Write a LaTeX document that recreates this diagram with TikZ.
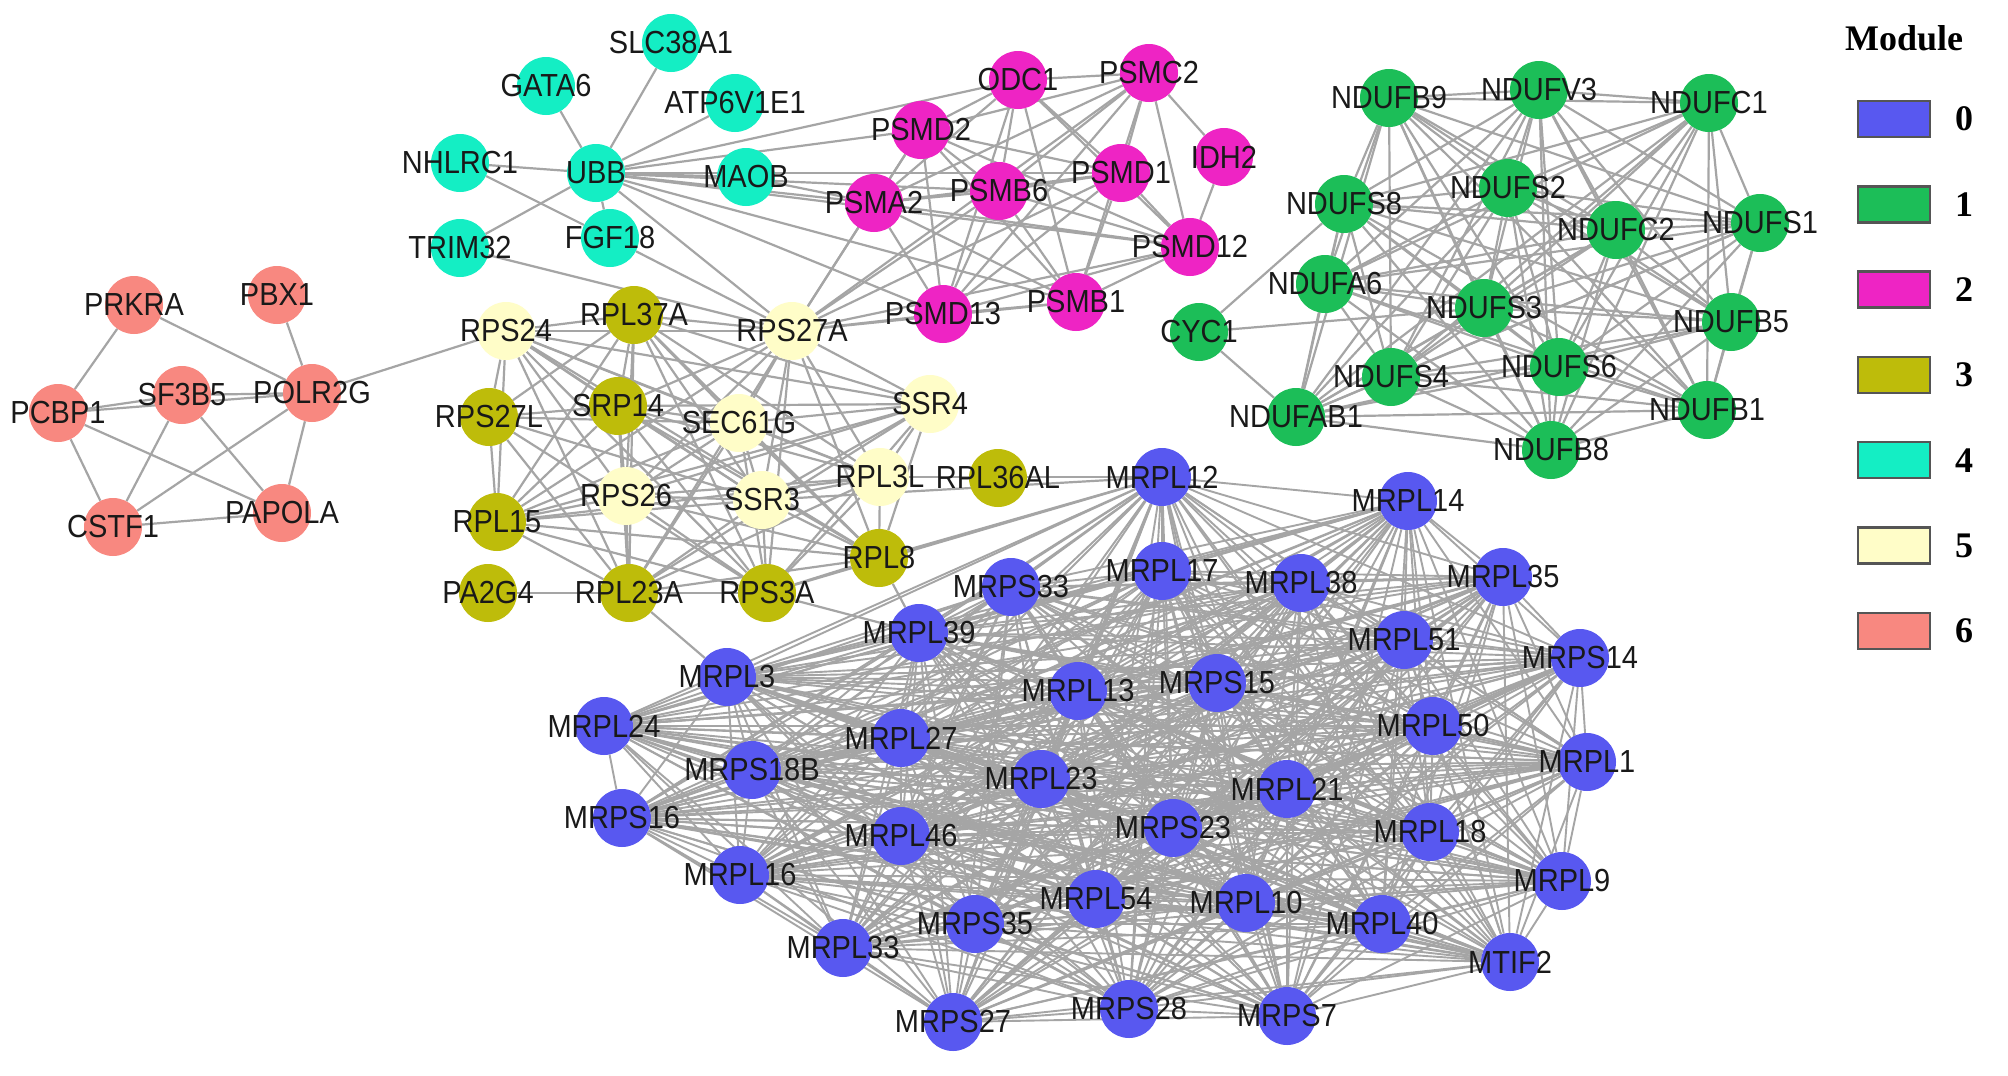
\documentclass[tikz,border=0pt]{standalone}
\usepackage{fontspec}
\setmainfont{Liberation Sans}
\newfontfamily\legfont{Liberation Serif}
\pgfdeclarelayer{edges}
\pgfdeclarelayer{labels}
\pgfsetlayers{edges,main,labels}
\definecolor{mzero}{RGB}{88,88,240}
\definecolor{mone}{RGB}{28,190,88}
\definecolor{mtwo}{RGB}{238,36,196}
\definecolor{mthree}{RGB}{190,188,10}
\definecolor{mfour}{RGB}{20,238,196}
\definecolor{mfive}{RGB}{255,253,200}
\definecolor{msix}{RGB}{248,136,128}
\definecolor{edgegray}{RGB}{165,165,165}
\definecolor{labgray}{RGB}{25,25,25}
\tikzset{
  gene/.style={circle,draw=none,minimum size=58pt,inner sep=0pt},
  lab/.style={inner sep=0pt,text=labgray,font=\fontsize{29}{30}\selectfont},
  edge/.style={draw=edgegray,line width=2.2pt},
  bedge/.style={draw=edgegray,line width=1.9pt},
  legbox/.style={rectangle,draw={rgb,255:red,85;green,85;blue,85},line width=2.5pt,minimum width=72pt,minimum height=36pt,inner sep=0pt},
  legtxt/.style={inner sep=0pt,font=\legfont\bfseries\fontsize{36}{38}\selectfont,text=black}
}
\newcommand\gn[4]{%
  \node[gene,fill=#1] (#2) at (#3,#4) {};
  \begin{pgfonlayer}{labels}\node[lab] (#2-t) at (#3,#4) {\scalebox{1}[1.1]{#2}};\end{pgfonlayer}}
\newcommand\clique[2]{%
  \foreach \a [count=\i] in #1 {\foreach \b [count=\j] in #1 {\ifnum\j>\i\relax\draw[#2] (\a) -- (\b);\fi}}}
\begin{document}
\begin{tikzpicture}[x=1pt,y=-1pt]
\useasboundingbox (0,0) rectangle (2008,1076);
% module 6
\gn{msix}{PRKRA}{134}{305}
\gn{msix}{PBX1}{277}{295}
\gn{msix}{PCBP1}{58}{413}
\gn{msix}{SF3B5}{182}{395}
\gn{msix}{POLR2G}{312}{393}
\gn{msix}{CSTF1}{113}{527}
\gn{msix}{PAPOLA}{282}{513}
% module 4
\gn{mfour}{SLC38A1}{671}{43}
\gn{mfour}{GATA6}{546}{86}
\gn{mfour}{ATP6V1E1}{735}{103}
\gn{mfour}{NHLRC1}{460}{163}
\gn{mfour}{UBB}{596}{173}
\gn{mfour}{MAOB}{746}{177}
\gn{mfour}{TRIM32}{460}{248}
\gn{mfour}{FGF18}{610}{238}
% module 2
\gn{mtwo}{ODC1}{1018}{80}
\gn{mtwo}{PSMC2}{1149}{73}
\gn{mtwo}{PSMD2}{921}{130}
\gn{mtwo}{IDH2}{1224}{157}
\gn{mtwo}{PSMD1}{1121}{173}
\gn{mtwo}{PSMB6}{999}{191}
\gn{mtwo}{PSMA2}{874}{203}
\gn{mtwo}{PSMD12}{1190}{247}
\gn{mtwo}{PSMB1}{1076}{302}
\gn{mtwo}{PSMD13}{943}{314}
% modules 3 and 5
\gn{mfive}{RPS24}{506}{331}
\gn{mthree}{RPL37A}{634}{315}
\gn{mfive}{RPS27A}{792}{331}
\gn{mthree}{RPS27L}{489}{417}
\gn{mthree}{SRP14}{618}{406}
\gn{mfive}{SEC61G}{739}{423}
\gn{mfive}{SSR4}{930}{404}
\gn{mfive}{RPL3L}{880}{477}
\gn{mthree}{RPL36AL}{998}{478}
\gn{mfive}{RPS26}{626}{496}
\gn{mfive}{SSR3}{762}{500}
\gn{mthree}{RPL15}{497}{522}
\gn{mthree}{RPL8}{879}{558}
\gn{mthree}{PA2G4}{488}{593}
\gn{mthree}{RPL23A}{629}{593}
\gn{mthree}{RPS3A}{767}{593}
% module 1
\gn{mone}{NDUFB9}{1389}{98}
\gn{mone}{NDUFV3}{1539}{90}
\gn{mone}{NDUFC1}{1709}{103}
\gn{mone}{NDUFS8}{1344}{204}
\gn{mone}{NDUFS2}{1508}{188}
\gn{mone}{NDUFC2}{1616}{230}
\gn{mone}{NDUFS1}{1760}{223}
\gn{mone}{NDUFA6}{1325}{284}
\gn{mone}{NDUFS3}{1484}{308}
\gn{mone}{CYC1}{1199}{332}
\gn{mone}{NDUFB5}{1731}{322}
\gn{mone}{NDUFS4}{1391}{377}
\gn{mone}{NDUFS6}{1559}{367}
\gn{mone}{NDUFAB1}{1296}{417}
\gn{mone}{NDUFB1}{1707}{410}
\gn{mone}{NDUFB8}{1551}{450}
% module 0
\gn{mzero}{MRPL12}{1162}{477}
\gn{mzero}{MRPL14}{1408}{501}
\gn{mzero}{MRPL17}{1162}{571}
\gn{mzero}{MRPS33}{1011}{587}
\gn{mzero}{MRPL38}{1301}{583}
\gn{mzero}{MRPL35}{1503}{577}
\gn{mzero}{MRPL39}{919}{633}
\gn{mzero}{MRPL51}{1404}{640}
\gn{mzero}{MRPS14}{1580}{658}
\gn{mzero}{MRPL3}{727}{677}
\gn{mzero}{MRPL13}{1078}{691}
\gn{mzero}{MRPS15}{1217}{683}
\gn{mzero}{MRPL24}{604}{726}
\gn{mzero}{MRPL27}{901}{738}
\gn{mzero}{MRPL50}{1433}{726}
\gn{mzero}{MRPL1}{1587}{762}
\gn{mzero}{MRPS18B}{752}{770}
\gn{mzero}{MRPL23}{1041}{779}
\gn{mzero}{MRPL21}{1287}{789}
\gn{mzero}{MRPS16}{622}{818}
\gn{mzero}{MRPL46}{901}{836}
\gn{mzero}{MRPS23}{1173}{828}
\gn{mzero}{MRPL18}{1430}{832}
\gn{mzero}{MRPL16}{740}{875}
\gn{mzero}{MRPL9}{1562}{881}
\gn{mzero}{MRPL54}{1096}{899}
\gn{mzero}{MRPL10}{1246}{903}
\gn{mzero}{MRPS35}{975}{924}
\gn{mzero}{MRPL40}{1382}{924}
\gn{mzero}{MRPL33}{843}{948}
\gn{mzero}{MTIF2}{1510}{962}
\gn{mzero}{MRPS28}{1129}{1009}
\gn{mzero}{MRPS7}{1287}{1016}
\gn{mzero}{MRPS27}{953}{1022}
% legend
\node[legtxt] (legtitle) at (1904,38) {Module};
\foreach \k/\c in {0/mzero,1/mone,2/mtwo,3/mthree,4/mfour,5/mfive,6/msix}{
  \node[legbox,fill=\c] (leg\k) at (1894,{119+85.3*\k}) {};
  \node[legtxt,anchor=west] (legt\k) at (1955,{119+85.3*\k}) {\k};
}
% edges
\begin{pgfonlayer}{edges}
\fill[white] (0,0) rectangle (2008,1076);
\foreach \a/\b in {PRKRA/PCBP1,PRKRA/POLR2G,PBX1/POLR2G,PCBP1/SF3B5,PCBP1/POLR2G,SF3B5/POLR2G,PCBP1/CSTF1,PCBP1/PAPOLA,SF3B5/CSTF1,SF3B5/PAPOLA,POLR2G/CSTF1,POLR2G/PAPOLA,CSTF1/PAPOLA,POLR2G/RPS24}
  \draw[edge] (\a) -- (\b);
\foreach \a/\b in {SLC38A1/UBB,GATA6/UBB,ATP6V1E1/UBB,NHLRC1/UBB,NHLRC1/FGF18,UBB/FGF18,UBB/TRIM32,UBB/MAOB,TRIM32/RPS27A,FGF18/RPS27A,MAOB/PSMA2,UBB/PSMD2,UBB/ODC1,UBB/PSMA2,UBB/PSMB6,UBB/PSMD1,UBB/PSMD12,UBB/PSMB1,UBB/PSMD13,UBB/RPS27A}
  \draw[edge] (\a) -- (\b);
\def\magset{PSMD2,ODC1,PSMC2,PSMA2,PSMB6,PSMD1,PSMD12,PSMB1,PSMD13}
\clique{\magset}{edge}
\foreach \a/\b in {IDH2/PSMC2,IDH2/PSMD12,RPS27A/PSMA2,RPS27A/PSMD2,RPS27A/PSMB6,RPS27A/PSMD1,RPS27A/PSMC2,RPS27A/PSMD12,RPS27A/PSMB1,RPS27A/PSMD13}
  \draw[edge] (\a) -- (\b);
\def\yelset{RPS24,RPL37A,RPS27A,SRP14,SEC61G,SSR4,RPL3L,RPS26,SSR3,RPL15,RPL8,RPL23A,RPS3A}
\clique{\yelset}{edge}
\foreach \a/\b in {RPS27L/RPS24,RPS27L/RPL15,RPS27L/RPL37A,RPS27L/SRP14,RPS27L/SEC61G,RPS27L/RPS3A,RPS27L/RPL23A,RPS27L/SSR3,PA2G4/RPL23A,MRPL12/RPL8,MRPL12/RPL3L,MRPL12/SSR3,MRPL12/RPS3A,RPL8/MRPL39,RPL23A/MRPL3,RPS3A/MRPL39}
  \draw[edge] (\a) -- (\b);
\def\grnset{NDUFB9,NDUFV3,NDUFC1,NDUFS8,NDUFS2,NDUFC2,NDUFS1,NDUFA6,NDUFS3,NDUFB5,NDUFS4,NDUFS6,NDUFAB1,NDUFB1,NDUFB8}
\clique{\grnset}{edge}
\foreach \a/\b in {CYC1/NDUFS8,CYC1/NDUFAB1,CYC1/NDUFS3}
  \draw[edge] (\a) -- (\b);
\def\bluset{MRPL12,MRPL14,MRPL17,MRPS33,MRPL38,MRPL35,MRPL39,MRPL51,MRPS14,MRPL3,MRPL13,MRPS15,MRPL24,MRPL27,MRPL50,MRPL1,MRPS18B,MRPL23,MRPL21,MRPS16,MRPL46,MRPS23,MRPL18,MRPL16,MRPL9,MRPL54,MRPL10,MRPS35,MRPL40,MRPL33,MTIF2,MRPS28,MRPS7,MRPS27}
\clique{\bluset}{bedge}
\end{pgfonlayer}
\end{tikzpicture}
\end{document}
